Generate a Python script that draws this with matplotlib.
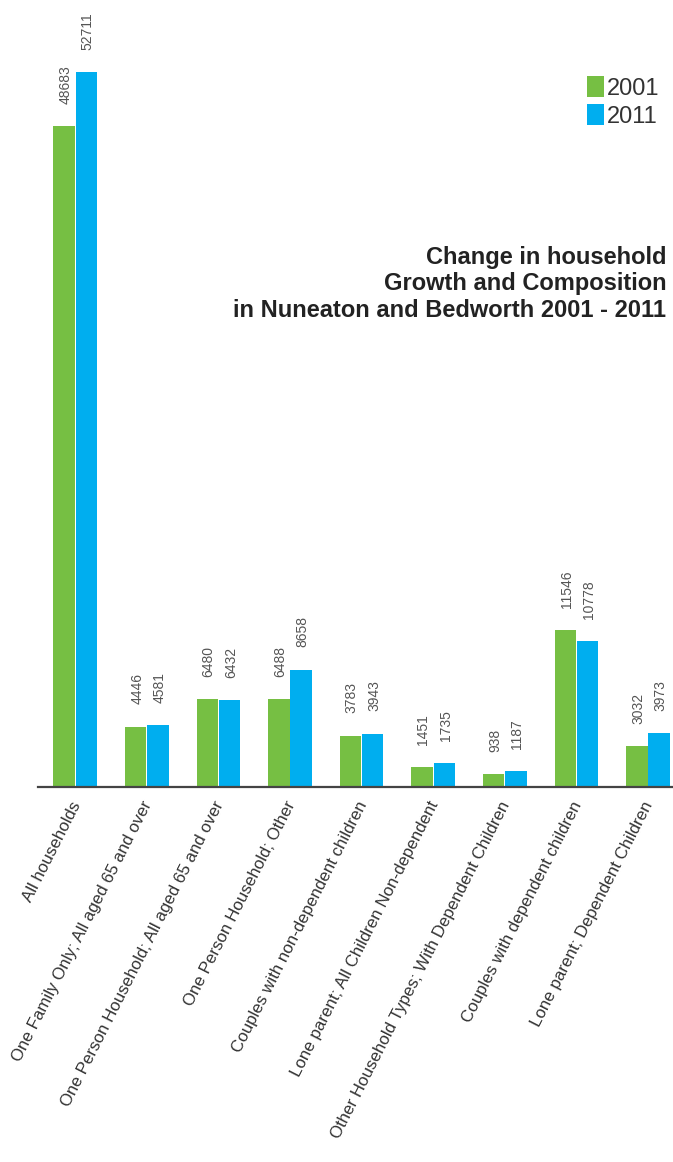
import numpy as np
import matplotlib.pyplot as plt

plt.rcParams['font.family'] = ['Liberation Sans', 'DejaVu Sans']

## Household data (Nuneaton and Bedworth census counts)
categories = [
    "All households",
    "One Family Only; All aged 65 and over",
    "One Person Household; All aged 65 and over",
    "One Person Household; Other",
    "Couples with non-dependent children",
    "Lone parent; All Children Non-dependent",
    "Other Household Types; With Dependent Children",
    "Couples with dependent children",
    "Lone parent; Dependent Children",
]
years = ["2001", "2011"]
values_2001 = [48683, 4446, 6480, 6488, 3783, 1451, 938, 11546, 3032]
values_2011 = [52711, 4581, 6432, 8658, 3943, 1735, 1187, 10778, 3973]

green = '#76bf43'
blue = '#00aeef'

fig = plt.figure(figsize=(6.73, 11.62), dpi=100)
ax = fig.add_axes([0.0565, 0.3227, 0.9435, 0.6773])

x = np.arange(len(categories))
w = 0.30
b1 = ax.bar(x - 0.155, values_2001, w, color=green, label=years[0])
b2 = ax.bar(x + 0.155, values_2011, w, color=blue, label=years[1])

# value labels, rotated, sitting just above each bar
for bars, vals in ((b1, values_2001), (b2, values_2011)):
    for rect, v in zip(bars, vals):
        ax.annotate(str(v), (rect.get_x() + rect.get_width() / 2, v),
                    xytext=(1, 16), textcoords='offset points',
                    rotation=90, ha='center', va='bottom',
                    fontsize=10, color='#555555')

ax.set_xlim(-0.52, 8.35)
ax.set_ylim(0, 58000)

for s in ['top', 'right', 'left']:
    ax.spines[s].set_visible(False)
ax.spines['bottom'].set_color('#444444')
ax.spines['bottom'].set_linewidth(1.6)
ax.set_yticks([])
ax.set_xticks(x)
ax.set_xticklabels([])
ax.tick_params(axis='x', length=0)

# slanted category names under the axis
for xi, name in zip(x, categories):
    ax.annotate(name, (xi, 0), xytext=(1, -11), textcoords='offset points',
                rotation=63, rotation_mode='anchor', ha='right', va='center',
                fontsize=12.2, color='#333333', annotation_clip=False)

leg = ax.legend(loc='upper right', bbox_to_anchor=(0.993, 0.915), frameon=False,
                fontsize=17, handlelength=0.75, handleheight=0.95,
                handletextpad=0.1, labelspacing=0.2, borderaxespad=0)
for t in leg.get_texts():
    t.set_color('#333333')

fig.text(0.99, 0.7556, "Change in household\nGrowth and Composition\nin Nuneaton and Bedworth 2001 - 2011",
         ha='right', va='center', fontsize=17, fontweight='bold', color='#222222',
         linespacing=1.2)

plt.savefig('out.png', dpi=100)
